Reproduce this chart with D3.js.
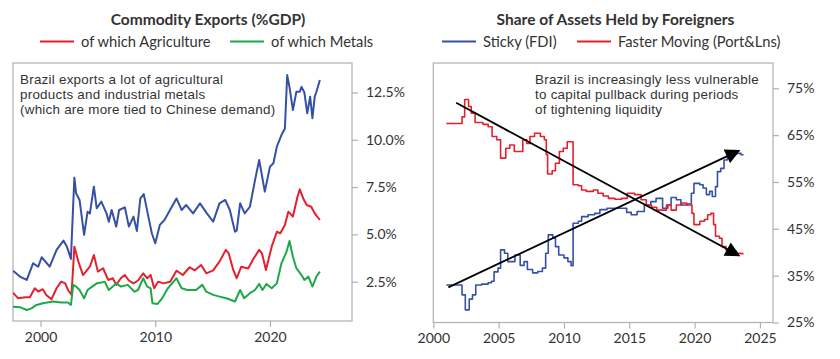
<!DOCTYPE html>
<html><head><meta charset="utf-8">
<script src="https://cdn.jsdelivr.net/npm/d3@7/dist/d3.min.js"></script>
<style>
body{margin:0;background:#fff;}
text{font-family:Lato,"Open Sans",sans-serif;fill:#333;}
</style></head><body>
<svg id="c" width="840" height="359"></svg>
<script>
// ---------- Left panel data (% of GDP) ----------
const leftTitle = "Commodity Exports (%GDP)";
const leftLegend = ["of which Agriculture", "of which Metals"];
const leftNote = ["Brazil exports a lot of agricultural", "products and industrial metals", "(which are more tied to Chinese demand)"];
const leftYTicks = [2.5, 5.0, 7.5, 10.0, 12.5];
const leftXTicks = [2000, 2010, 2020];
const totalExports = [[1997.6,3.08],[1998.2,2.77],[1998.8,2.59],[1999.35,3.47],[1999.8,3.29],[2000.1,3.79],[2000.8,3.29],[2001.4,4.18],[2002.0,4.67],[2002.3,4.35],[2002.65,3.7],[2002.8,5.9],[2002.95,8.0],[2003.1,7.17],[2003.4,6.82],[2003.8,4.97],[2004.1,6.2],[2004.3,6.1],[2004.65,7.52],[2004.9,6.38],[2005.3,6.73],[2005.75,6.11],[2005.95,5.67],[2006.2,6.29],[2006.6,5.41],[2006.85,6.29],[2007.35,6.43],[2007.7,5.41],[2008.1,5.94],[2008.4,5.18],[2008.7,6.9],[2009.0,7.13],[2009.4,5.94],[2009.7,5.06],[2010.0,4.53],[2010.4,5.5],[2010.8,5.76],[2011.3,6.3],[2011.85,6.9],[2012.3,6.29],[2012.7,6.55],[2013.3,6.11],[2013.9,6.64],[2014.5,6.11],[2015.05,5.67],[2015.6,6.64],[2016.1,6.82],[2016.5,6.29],[2016.95,5.14],[2017.1,5.2],[2017.4,6.64],[2017.8,6.11],[2018.25,6.46],[2018.7,7.88],[2019.06,8.93],[2019.55,7.26],[2020.0,8.58],[2020.3,8.76],[2020.6,9.64],[2021.0,10.25],[2021.3,10.6],[2021.5,13.42],[2021.7,12.8],[2022.0,11.57],[2022.3,12.54],[2022.6,12.54],[2022.75,12.8],[2023.0,12.5],[2023.25,11.4],[2023.5,12.28],[2023.7,11.14],[2023.9,12.28],[2024.05,12.54],[2024.35,13.16]];
const agriculture = [[1997.6,1.92],[1998.05,1.62],[1998.7,1.68],[1999.07,1.68],[1999.5,2.15],[1999.8,1.98],[2000.2,2.1],[2000.5,1.8],[2000.95,1.57],[2001.4,2.15],[2001.8,2.5],[2002.15,2.41],[2002.4,2.06],[2002.7,1.8],[2002.95,4.35],[2003.3,3.56],[2003.7,2.85],[2004.3,3.29],[2004.65,3.91],[2005.0,3.03],[2005.45,3.21],[2005.9,2.59],[2006.3,2.68],[2006.6,2.33],[2007.0,2.68],[2007.35,2.85],[2007.7,2.56],[2008.1,2.41],[2008.5,2.56],[2008.95,2.94],[2009.3,2.68],[2009.6,2.85],[2009.9,2.15],[2010.25,2.5],[2010.7,2.41],[2011.3,2.5],[2011.85,3.08],[2012.4,2.85],[2013.0,3.26],[2013.45,3.1],[2014.0,3.38],[2014.45,2.94],[2015.05,3.1],[2015.6,3.56],[2016.15,4.18],[2016.4,4.0],[2016.8,3.12],[2017.1,2.68],[2017.5,3.29],[2018.1,3.2],[2018.5,3.65],[2019.06,4.18],[2019.3,4.0],[2019.65,3.12],[2020.15,4.35],[2020.6,5.14],[2020.9,5.06],[2021.3,5.5],[2021.6,6.2],[2022.0,5.94],[2022.4,6.99],[2022.6,7.38],[2022.9,6.9],[2023.2,6.55],[2023.6,6.46],[2023.9,6.11],[2024.35,5.76]];
const metals = [[1997.6,1.18],[1998.2,1.15],[1998.8,1.0],[1999.2,1.09],[1999.65,1.27],[2000.2,1.36],[2001.1,1.45],[2001.8,1.4],[2002.4,1.4],[2002.65,1.27],[2002.85,2.33],[2003.1,2.24],[2003.4,2.06],[2003.8,1.62],[2004.1,2.06],[2004.5,2.24],[2004.9,2.41],[2005.3,2.45],[2005.6,2.5],[2005.95,2.06],[2006.3,2.24],[2006.6,2.41],[2007.0,2.24],[2007.6,2.33],[2008.2,1.97],[2008.5,2.06],[2008.95,2.68],[2009.3,2.24],[2009.6,2.15],[2009.75,1.36],[2010.2,1.32],[2010.6,1.62],[2011.1,2.15],[2011.6,2.5],[2011.85,2.68],[2012.3,2.15],[2012.8,2.06],[2013.55,2.06],[2014.1,2.33],[2014.45,1.97],[2015.05,1.8],[2015.6,1.71],[2016.2,1.62],[2016.95,1.45],[2017.4,2.06],[2017.75,1.62],[2018.25,1.89],[2018.7,2.06],[2019.06,2.38],[2019.35,2.06],[2019.7,2.38],[2020.15,2.15],[2020.6,2.41],[2021.0,3.47],[2021.45,4.09],[2021.7,4.65],[2022.0,3.82],[2022.3,3.21],[2022.75,2.85],[2023.0,2.59],[2023.35,2.77],[2023.7,2.24],[2024.05,2.77],[2024.35,3.03]];

// ---------- Right panel data (% share) ----------
const rightTitle = "Share of Assets Held by Foreigners";
const rightLegend = ["Sticky (FDI)", "Faster Moving (Port&Lns)"];
const rightNote = ["Brazil is increasingly less vulnerable", "to capital pullback during periods", "of tightening liquidity"];
const rightYTicks = [25, 35, 45, 55, 65, 75];
const rightXTicks = [2000, 2005, 2010, 2015, 2020, 2025];
const sticky = [[2001.0,33.0],[2002.2,30.9],[2002.45,27.7],[2002.75,30.0],[2003.0,30.9],[2003.25,33.0],[2003.7,33.2],[2004.2,33.5],[2004.45,33.8],[2004.65,35.8],[2004.95,36.6],[2005.15,40.5],[2005.45,39.8],[2005.7,38.0],[2006.25,39.4],[2006.65,37.2],[2006.95,38.0],[2007.2,36.3],[2007.6,35.6],[2008.0,35.9],[2008.35,36.6],[2008.6,39.8],[2008.8,43.7],[2009.15,43.0],[2009.35,41.2],[2009.6,39.4],[2010.0,38.8],[2010.3,38.0],[2010.55,37.1],[2010.7,46.2],[2011.1,46.6],[2011.35,47.6],[2011.85,48.0],[2012.35,48.3],[2012.75,49.1],[2013.3,49.4],[2014.8,48.5],[2015.15,48.0],[2015.6,48.7],[2016.15,50.1],[2016.65,50.8],[2017.05,51.5],[2017.55,49.4],[2017.95,50.1],[2018.2,51.7],[2018.6,51.2],[2018.95,50.1],[2019.45,50.3],[2019.75,52.6],[2019.95,54.7],[2020.4,54.4],[2020.65,53.7],[2020.9,52.3],[2021.15,53.0],[2021.35,51.9],[2021.6,54.0],[2021.75,57.2],[2022.0,57.9],[2022.25,59.7],[2022.5,60.3],[2022.8,60.8],[2023.15,61.1],[2023.55,60.8],[2023.75,60.8]];
const fasterMoving = [[2001.0,67.5],[2002.2,68.9],[2002.4,72.6],[2002.7,71.1],[2002.9,69.7],[2003.2,67.7],[2003.8,67.3],[2004.2,66.8],[2004.5,64.7],[2004.85,64.0],[2005.15,60.1],[2005.55,62.2],[2005.85,62.9],[2006.2,61.5],[2006.85,64.0],[2007.15,63.2],[2007.4,64.7],[2007.75,65.4],[2008.2,64.7],[2008.5,64.0],[2008.65,60.8],[2008.75,56.7],[2009.1,57.4],[2009.35,59.0],[2009.65,61.5],[2009.95,62.2],[2010.25,63.6],[2010.7,54.4],[2011.1,54.2],[2011.35,53.3],[2011.7,53.0],[2012.25,53.3],[2012.6,52.6],[2013.0,52.0],[2013.4,51.5],[2013.9,51.3],[2014.4,51.5],[2014.85,52.6],[2015.4,52.3],[2015.9,51.2],[2016.3,50.1],[2016.7,49.6],[2017.1,49.0],[2017.85,50.1],[2018.2,49.0],[2018.6,50.1],[2019.0,50.5],[2019.4,50.1],[2019.8,48.3],[2019.95,45.9],[2020.4,46.6],[2020.75,47.0],[2021.0,48.0],[2021.25,48.3],[2021.45,45.9],[2021.6,43.4],[2021.9,43.0],[2022.1,41.2],[2022.4,40.5],[2022.8,40.2],[2023.2,39.8],[2023.55,39.7],[2023.75,39.7]];
const trendDown = [[2001.75,71.9],[2023.4,39.3]];
const trendUp = [[2001.15,32.5],[2023.4,61.7]];

const BLUE = "#3650a6", RED = "#e5202e", GREEN = "#1fa84a", FRAME = "#b0b0b0";

const svg = d3.select("#c");
const defs = svg.append("defs");
defs.append("marker").attr("id","arr").attr("viewBox","0 0 10 10").attr("refX",9).attr("refY",5)
  .attr("markerWidth",16).attr("markerHeight",15).attr("markerUnits","userSpaceOnUse").attr("orient","auto")
  .append("path").attr("d","M0,0L10,5L0,10Z").attr("fill","#000");

function panel(o){
  const g = svg.append("g");
  const x = d3.scaleLinear().domain(o.xDomain).range([o.left, o.right]);
  const y = d3.scaleLinear().domain(o.yDomain).range([o.bottom, o.top]);
  const cid = "clip"+o.id;
  defs.append("clipPath").attr("id",cid).append("rect")
    .attr("x",o.left).attr("y",o.top).attr("width",o.right-o.left).attr("height",o.bottom-o.top);
  g.append("rect").attr("x",o.left).attr("y",o.top).attr("width",o.right-o.left).attr("height",o.bottom-o.top)
    .attr("fill","none").attr("stroke",FRAME).attr("stroke-width",1.2);
  const ya = g.append("g").attr("transform",`translate(${o.right},0)`)
    .call(d3.axisRight(y).tickValues(o.yTicks).tickSize(6).tickPadding(8).tickFormat(o.yFmt));
  const xa = g.append("g").attr("transform",`translate(0,${o.bottom})`)
    .call(d3.axisBottom(x).tickValues(o.xTicks).tickSize(6).tickPadding(5).tickFormat(d3.format("d")));
  [ya,xa].forEach(a=>{
    a.select(".domain").remove();
    a.selectAll("line").attr("stroke",FRAME).attr("stroke-width",1.2);
    a.selectAll("text").attr("font-size",14).attr("fill","#333").style("font-family","Lato, 'Open Sans', sans-serif");
  });
  g.append("text").attr("x",o.cx).attr("y",25).attr("text-anchor","middle")
    .attr("font-size",15.5).attr("font-weight","bold").attr("fill","#111").text(o.title);
  o.legend.forEach((L)=>{
    g.append("line").attr("x1",L.x).attr("x2",L.x+34).attr("y1",41.5).attr("y2",41.5)
      .attr("stroke",L.color).attr("stroke-width",2);
    g.append("text").attr("x",L.x+41).attr("y",46.5).attr("font-size",14.7).text(L.label);
  });
  // multi-line note (compact font so stacked lines do not collide)
  o.note.forEach((t,i)=>{
    g.append("text").attr("x",o.noteX).attr("y",83.5+i*15)
      .attr("font-size",13.4).attr("letter-spacing",0.25)
      .style("font-family","'Liberation Sans', Arial, sans-serif").attr("fill","#333").text(t);
  });
  const plot = g.append("g").attr("clip-path",`url(#${cid})`);
  o.series.forEach(s=>{
    const line = d3.line().x(d=>x(d[0])).y(d=>y(d[1])).curve(s.curve||d3.curveLinear);
    plot.append("path").datum(s.data).attr("d",line).attr("fill","none")
      .attr("stroke",s.color).attr("stroke-width",s.width).attr("stroke-linejoin","round");
  });
  (o.arrows||[]).forEach(a=>{
    g.append("line").attr("x1",x(a[0][0])).attr("y1",y(a[0][1])).attr("x2",x(a[1][0])).attr("y2",y(a[1][1]))
      .attr("stroke","#000").attr("stroke-width",1.8).attr("marker-end","url(#arr)");
  });
}

panel({id:"L", left:13, right:352, top:63, bottom:321,
  xDomain:[1997.6, 2027.15], yDomain:[0.42, 14.06],
  yTicks:leftYTicks, xTicks:leftXTicks, yFmt:d=>d.toFixed(1)+"%",
  cx:208, title:leftTitle,
  legend:[{x:40,label:leftLegend[0],color:RED},{x:230,label:leftLegend[1],color:GREEN}],
  note:leftNote, noteX:20,
  series:[{data:totalExports,color:BLUE,width:2},{data:agriculture,color:RED,width:2},{data:metals,color:GREEN,width:2}]
});

panel({id:"R", left:433.3, right:773, top:63, bottom:322.5,
  xDomain:[2000, 2026], yDomain:[25, 80.4],
  yTicks:rightYTicks, xTicks:rightXTicks, yFmt:d=>d+"%",
  cx:615.5, title:rightTitle,
  legend:[{x:442,label:rightLegend[0],color:BLUE},{x:577,label:rightLegend[1],color:RED}],
  note:rightNote, noteX:535,
  series:[{data:sticky,color:BLUE,width:1.6,curve:d3.curveStepAfter},{data:fasterMoving,color:RED,width:1.6,curve:d3.curveStepAfter}],
  arrows:[trendDown, trendUp]
});
</script></body></html>
